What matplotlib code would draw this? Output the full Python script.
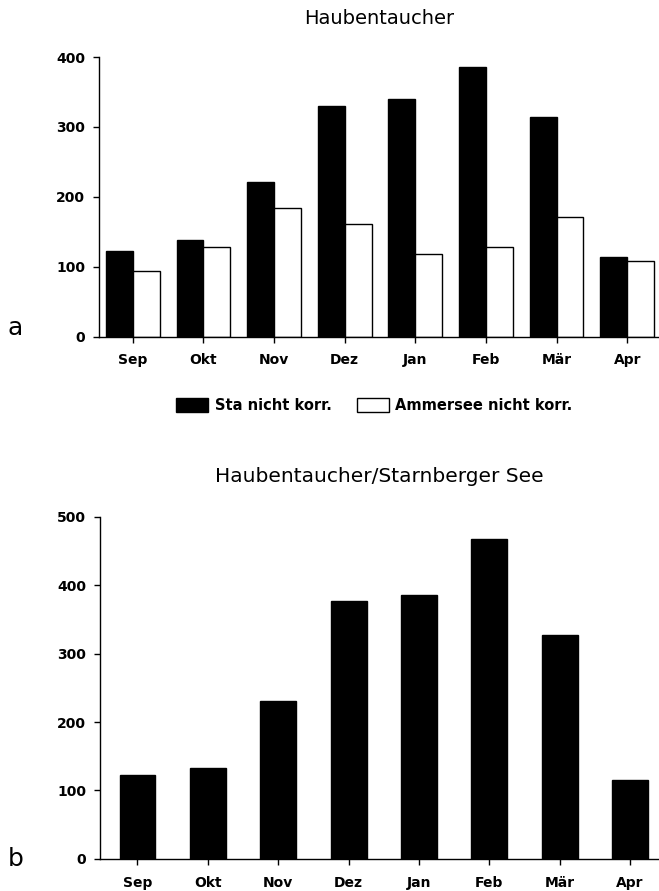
import numpy as np
import matplotlib
matplotlib.use("Agg")
import matplotlib.pyplot as plt
from matplotlib.patches import Patch

plt.rcParams['font.family'] = ['DejaVu Sans']

monate = ["Sep", "Okt", "Nov", "Dez", "Jan", "Feb", "Mär", "Apr"]

# Haubentaucher, nicht korrigierte Zählungen
sta_nicht_korr = [123, 139, 221, 330, 340, 386, 314, 114]
ammersee_nicht_korr = [94, 129, 184, 161, 119, 129, 171, 109]

# Haubentaucher am Starnberger See
starnberger_see = [123, 133, 231, 377, 385, 468, 327, 115]

fig = plt.figure(figsize=(6.59, 8.91), dpi=100)

def style_axes(ax):
    for s in ("top", "right"):
        ax.spines[s].set_visible(False)
    for s in ("left", "bottom"):
        ax.spines[s].set_linewidth(1.0)
    ax.tick_params(direction="out", length=4, width=1, labelsize=10)
    ax.tick_params(axis="x", pad=8)
    ax.tick_params(axis="y", pad=6)
    for lab in ax.get_xticklabels() + ax.get_yticklabels():
        lab.set_fontweight("bold")

x = np.arange(len(monate))

# --- a: Starnberger See und Ammersee ---
ax1 = fig.add_axes([0.150, 0.622, 0.85, 0.314])
bw = 0.38
ax1.bar(x - bw / 2, sta_nicht_korr, bw, color="black", edgecolor="black", linewidth=1)
ax1.bar(x + bw / 2, ammersee_nicht_korr, bw, color="white", edgecolor="black", linewidth=1)
ax1.set_xlim(-0.48, 7.45)
ax1.set_ylim(0, 400)
ax1.set_yticks([0, 100, 200, 300, 400])
ax1.set_xticks(x, labels=monate)
style_axes(ax1)
ax1.set_title("Haubentaucher", fontsize=14, pad=24)
fig.text(0.012, 0.632, "a", fontsize=18, va="center", ha="left")

handles = [Patch(facecolor="black", edgecolor="black", label="Sta nicht korr."),
           Patch(facecolor="white", edgecolor="black", label="Ammersee nicht korr.")]
leg = fig.legend(handles=handles, loc="center", bbox_to_anchor=(0.568, 0.545), ncol=2,
                 frameon=False, handlelength=2.2, handleheight=1.1, columnspacing=1.7,
                 handletextpad=0.45, prop={"size": 10.5, "weight": "bold"})

# --- b: Starnberger See ---
ax2 = fig.add_axes([0.152, 0.036, 0.848, 0.384])
ax2.bar(x, starnberger_see, 0.51, color="black", edgecolor="black", linewidth=1)
ax2.set_xlim(-0.53, 7.41)
ax2.set_ylim(0, 500)
ax2.set_yticks([0, 100, 200, 300, 400, 500])
ax2.set_xticks(x, labels=monate)
style_axes(ax2)
ax2.set_title("Haubentaucher/Starnberger See", fontsize=14.5, pad=25)
fig.text(0.012, 0.036, "b", fontsize=18, va="center", ha="left")

fig.savefig("out.png", dpi=100)
